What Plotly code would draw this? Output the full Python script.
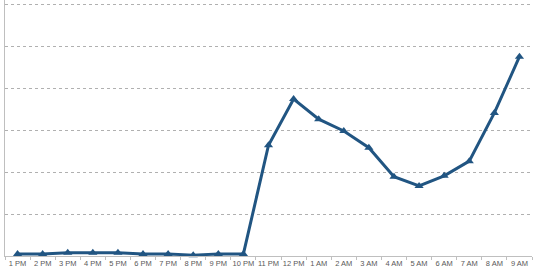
import plotly.graph_objects as go

hours = ["1 PM", "2 PM", "3 PM", "4 PM", "5 PM", "6 PM", "7 PM", "8 PM", "9 PM", "10 PM",
         "11 PM", "12 PM", "1 AM", "2 AM", "3 AM", "4 AM", "5 AM", "6 AM", "7 AM", "8 AM", "9 AM"]
values = [0.05, 0.05, 0.08, 0.08, 0.08, 0.05, 0.05, 0.02, 0.05, 0.05,
          2.64, 3.74, 3.26, 2.98, 2.58, 1.89, 1.67, 1.91, 2.26, 3.41, 4.75]

fig = go.Figure()
fig.add_trace(go.Scatter(
    x=hours, y=values, mode="lines+markers",
    line=dict(color="#215582", width=3),
    marker=dict(symbol="triangle-up", size=8, color="#215582"),
    showlegend=False, cliponaxis=False,
))

fig.update_layout(
    width=540, height=275,
    margin=dict(l=5, r=8, t=0, b=19),
    paper_bgcolor="white", plot_bgcolor="white",
    font=dict(family="Liberation Sans, Arial, sans-serif", size=7.5, color="#595959"),
)
fig.update_xaxes(
    type="category", range=[-0.5, 20.5], automargin=False, tickangle=0,
    showline=True, linecolor="#bfbfbf", linewidth=1,
    ticks="outside", tickson="boundaries", ticklen=3, tickcolor="#bfbfbf",
    showgrid=False, tickfont=dict(size=7.5, color="#595959"),
)
fig.update_yaxes(
    range=[0, 6.1], dtick=1, automargin=False,
    showline=True, linecolor="#bfbfbf", linewidth=1,
    showgrid=True, gridcolor="#b0b0b0", griddash="dot", gridwidth=1,
    showticklabels=False, zeroline=False, ticks="",
)

fig.write_html("out.html")
